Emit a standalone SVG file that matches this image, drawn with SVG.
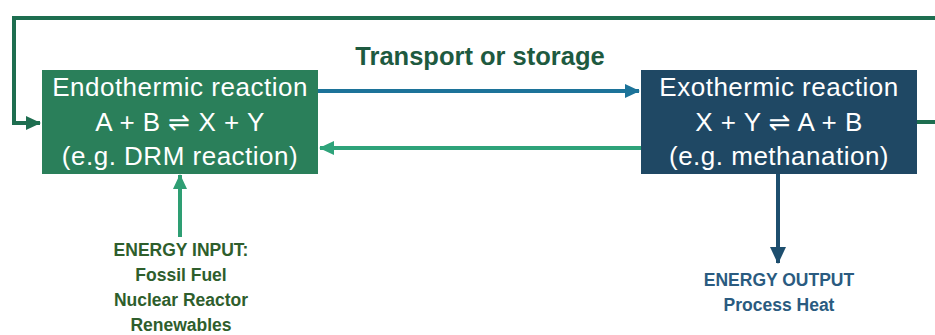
<svg xmlns="http://www.w3.org/2000/svg" width="935" height="335" viewBox="0 0 935 335">
  <style>
    .box-text { font-family: "Liberation Sans", "DejaVu Sans", sans-serif; font-size: 26px; letter-spacing: 0.5px; fill: #ffffff; text-anchor: middle; }
    .title { font-family: "Liberation Sans", sans-serif; font-size: 25.5px; font-weight: bold; fill: #1E5A40; text-anchor: middle; }
    .in-text { font-family: "Liberation Sans", sans-serif; font-size: 17.5px; font-weight: bold; fill: #2E5E2C; text-anchor: middle; }
    .out-text { font-family: "Liberation Sans", sans-serif; font-size: 17.5px; font-weight: bold; fill: #2A5B80; text-anchor: middle; }
    .conn { fill: none; stroke-width: 4; }
  </style>
  <defs>
    <marker id="head-loop" markerUnits="userSpaceOnUse" markerWidth="16" markerHeight="16" refX="14" refY="8" orient="auto">
      <path d="M0,1 L15,8 L0,15 Z" fill="#1E6E50"/>
    </marker>
    <marker id="head-fwd" markerUnits="userSpaceOnUse" markerWidth="16" markerHeight="16" refX="14" refY="8" orient="auto">
      <path d="M0,1 L15,8 L0,15 Z" fill="#1C7399"/>
    </marker>
    <marker id="head-back" markerUnits="userSpaceOnUse" markerWidth="16" markerHeight="16" refX="14" refY="8" orient="auto">
      <path d="M0,1 L15,8 L0,15 Z" fill="#2EA37A"/>
    </marker>
    <marker id="head-in" markerUnits="userSpaceOnUse" markerWidth="16" markerHeight="16" refX="14" refY="8" orient="auto">
      <path d="M0,1 L15,8 L0,15 Z" fill="#2E9E73"/>
    </marker>
    <marker id="head-out" markerUnits="userSpaceOnUse" markerWidth="18" markerHeight="18" refX="16" refY="9" orient="auto">
      <path d="M0,1 L17,9 L0,17 Z" fill="#1D4E6E"/>
    </marker>
  </defs>

  <!-- connectors -->
  <g id="connectors">
    <path class="conn" d="M917,122 H940 M936,18 H14 V123 H40" stroke="#1E6E50" marker-end="url(#head-loop)"/>
    <line class="conn" x1="318" y1="91" x2="639" y2="91" stroke="#1C7399" marker-end="url(#head-fwd)"/>
    <line class="conn" x1="641" y1="148" x2="320" y2="148" stroke="#2EA37A" marker-end="url(#head-back)"/>
    <line class="conn" x1="180" y1="237" x2="180" y2="175" stroke="#2E9E73" marker-end="url(#head-in)"/>
    <line class="conn" x1="778" y1="174" x2="778" y2="263" stroke="#1D4E6E" marker-end="url(#head-out)"/>
  </g>

  <text class="title" x="480" y="65">Transport or storage</text>

  <!-- endothermic reactor -->
  <g id="endothermic">
    <rect x="42" y="70" width="276" height="104" fill="#2A7F5A"/>
    <text class="box-text" x="180" y="96">Endothermic reaction</text>
    <text class="box-text" x="180" y="131">A + B ⇌ X + Y</text>
    <text class="box-text" x="180" y="165">(e.g. DRM reaction)</text>
  </g>

  <!-- exothermic reactor -->
  <g id="exothermic">
    <rect x="641" y="70" width="276" height="104" fill="#1F4864"/>
    <text class="box-text" x="779" y="96">Exothermic reaction</text>
    <text class="box-text" x="779" y="131">X + Y ⇌ A + B</text>
    <text class="box-text" x="779" y="165">(e.g. methanation)</text>
  </g>

  <!-- energy input -->
  <g id="energy-input">
    <text class="in-text" x="181" y="256">ENERGY INPUT:</text>
    <text class="in-text" x="181" y="281">Fossil Fuel</text>
    <text class="in-text" x="181" y="306">Nuclear Reactor</text>
    <text class="in-text" x="181" y="331">Renewables</text>
  </g>

  <!-- energy output -->
  <g id="energy-output">
    <text class="out-text" x="779" y="286">ENERGY OUTPUT</text>
    <text class="out-text" x="779" y="311">Process Heat</text>
  </g>
</svg>
